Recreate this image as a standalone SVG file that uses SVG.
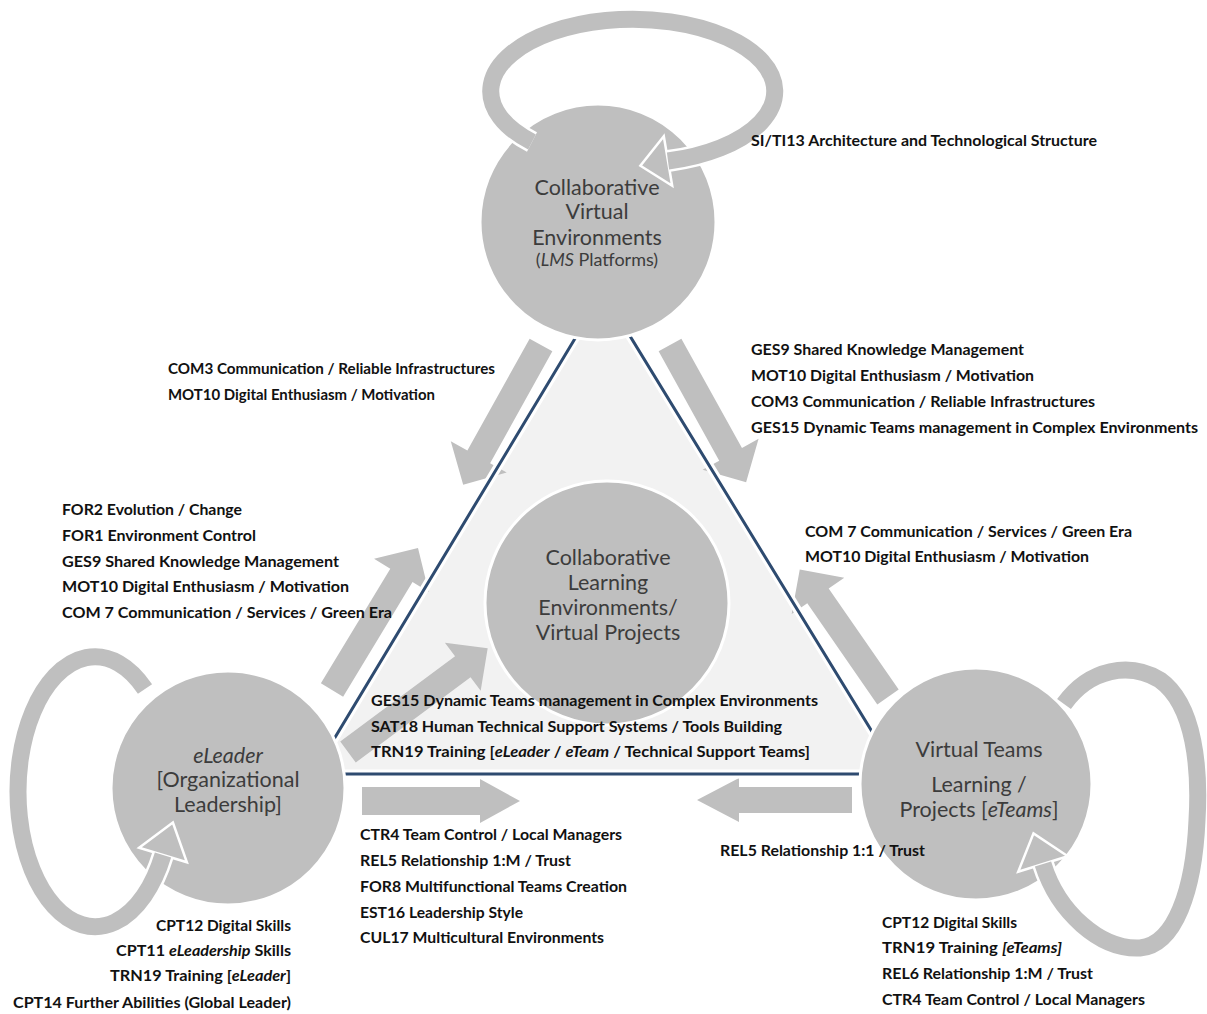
<svg xmlns="http://www.w3.org/2000/svg" width="1207" height="1014" viewBox="0 0 1207 1014">
<style>
.arrow{fill:#bfbfbf}
.node circle{fill:#bfbfbf;stroke:#fff;stroke-width:3}
.nl{font-family:Lato,"Liberation Sans",sans-serif;font-size:21.5px;fill:#3c3c3c;text-anchor:middle}
.lb{font-family:Lato,"Liberation Sans",sans-serif;font-size:14.5px;font-weight:bold;fill:#111}
.r{text-anchor:end}
.i{font-style:italic}
.halo{fill:none;stroke:#fff;stroke-width:22}
.band{fill:none;stroke:#bfbfbf;stroke-width:17}
.head{fill:#bfbfbf;stroke:#fff;stroke-width:2.5;stroke-linejoin:miter}
.edge-halo{fill:none;stroke:#fff;stroke-width:9}
.edge{fill:none;stroke:#2e4b70;stroke-width:3}
</style>
<rect width="1207" height="1014" fill="#fff"/>
<polygon points="603,292 313,774 898,774" fill="#f2f2f2"/>
<g id="connectors">
  <path class="arrow" transform="translate(541,345) rotate(119.1)" d="M0,-13 H128 V-32 L160,0 L128,32 V13 H0 Z"/>
  <path class="arrow" transform="translate(670,345) rotate(61)" d="M0,-13 H125 V-32 L157,0 L125,32 V13 H0 Z"/>
  <path class="arrow" transform="translate(332,690) rotate(-58.8)" d="M0,-13 H134 V-32 L166,0 L134,32 V13 H0 Z"/>
  <path class="arrow" transform="translate(348,752) rotate(-36.6)" d="M0,-13 H143 V-30 L174,0 L143,30 V13 H0 Z"/>
  <path class="arrow" transform="translate(888,697) rotate(-124.7)" d="M0,-13 H123 V-32 L155,0 L123,32 V13 H0 Z"/>
  <path class="arrow" transform="translate(362,801)" d="M0,-14 H118 V-22 L158,0 L118,22 V14 H0 Z"/>
  <path class="arrow" transform="translate(852,800) rotate(180)" d="M0,-13 H113 V-22 L155,0 L113,22 V13 H0 Z"/>
  <polygon class="edge-halo" points="603,292 313,774 898,774"/>
  <polygon class="edge" points="603,292 313,774 898,774"/>
</g>
<g id="node-cve" class="node">
  <circle cx="598" cy="222" r="118"/>
  <text class="nl" x="597" y="195">Collaborative</text>
  <text class="nl" x="597" y="219">Virtual</text>
  <text class="nl" x="597" y="245">Environments</text>
  <text class="nl" x="597" y="266" style="font-size:18px">(<tspan class="i">LMS</tspan> Platforms)</text>
</g>
<g id="node-cle" class="node">
  <circle cx="607" cy="603" r="122"/>
  <text class="nl" x="608" y="565">Collaborative</text>
  <text class="nl" x="608" y="590">Learning</text>
  <text class="nl" x="608" y="615">Environments/</text>
  <text class="nl" x="608" y="640">Virtual Projects</text>
</g>
<g id="node-eleader" class="node">
  <circle cx="228" cy="788" r="117"/>
  <text class="nl i" x="228" y="763">eLeader</text>
  <text class="nl" x="228" y="787">[Organizational</text>
  <text class="nl" x="228" y="812">Leadership]</text>
</g>
<g id="node-vt" class="node">
  <circle cx="976" cy="784" r="116"/>
  <text class="nl" x="979" y="757">Virtual Teams</text>
  <text class="nl" x="979" y="792">Learning /</text>
  <text class="nl" x="979" y="817">Projects [<tspan class="i">eTeams</tspan>]</text>
</g>
<g id="loops">
  <path class="halo" d="M532,142 A142,72 0 1 1 668,161"/>
  <polygon class="head" points="663.8,136.3 640.4,165.7 672.2,185.7"/>
  <path class="band" d="M532,142 A142,72 0 1 1 668,161"/>
  <path class="halo" d="M145,689 A77,135 0 1 0 163,855"/>
  <polygon class="head" points="139.1,847.7 172.9,822.5 186.9,862.3"/>
  <path class="band" d="M145,689 A77,135 0 1 0 163,855"/>
  <path class="halo" d="M1064,704 C1090,668 1130,662 1160,680 C1195,705 1200,770 1197,820 C1194,890 1175,945 1140,948 C1100,950 1058,912 1043,864"/>
  <polygon class="head" points="1067.8,856.3 1033.5,833.4 1018.2,871.7"/>
  <path class="band" d="M1064,704 C1090,668 1130,662 1160,680 C1195,705 1200,770 1197,820 C1194,890 1175,945 1140,948 C1100,950 1058,912 1043,864"/>
</g>
<g id="labels">
  <text class="lb" x="751" y="146" textLength="346" lengthAdjust="spacingAndGlyphs">SI/TI13 Architecture  and Technological Structure</text>
  <text class="lb" x="168" y="374" textLength="327" lengthAdjust="spacingAndGlyphs">COM3  Communication  / Reliable Infrastructures</text>
  <text class="lb" x="168" y="400" textLength="267" lengthAdjust="spacingAndGlyphs">MOT10 Digital Enthusiasm  / Motivation</text>
  <text class="lb" x="751" y="355" textLength="273" lengthAdjust="spacingAndGlyphs">GES9 Shared Knowledge Management</text>
  <text class="lb" x="751" y="381" textLength="283" lengthAdjust="spacingAndGlyphs">MOT10 Digital Enthusiasm / Motivation</text>
  <text class="lb" x="751" y="407" textLength="344" lengthAdjust="spacingAndGlyphs">COM3  Communication  / Reliable Infrastructures</text>
  <text class="lb" x="751" y="433" textLength="447" lengthAdjust="spacingAndGlyphs">GES15 Dynamic Teams management in Complex Environments</text>
  <text class="lb" x="62" y="515" textLength="180" lengthAdjust="spacingAndGlyphs">FOR2 Evolution / Change</text>
  <text class="lb" x="62" y="541" textLength="194" lengthAdjust="spacingAndGlyphs">FOR1 Environment  Control</text>
  <text class="lb" x="62" y="567" textLength="277" lengthAdjust="spacingAndGlyphs">GES9 Shared Knowledge Management</text>
  <text class="lb" x="62" y="592" textLength="287" lengthAdjust="spacingAndGlyphs">MOT10 Digital Enthusiasm  / Motivation</text>
  <text class="lb" x="62" y="618" textLength="330" lengthAdjust="spacingAndGlyphs">COM 7 Communication  / Services / Green Era</text>
  <text class="lb" x="805" y="537" textLength="327" lengthAdjust="spacingAndGlyphs">COM 7 Communication  / Services / Green Era</text>
  <text class="lb" x="805" y="562" textLength="284" lengthAdjust="spacingAndGlyphs">MOT10 Digital Enthusiasm / Motivation</text>
  <text class="lb" x="371" y="706" textLength="447" lengthAdjust="spacingAndGlyphs">GES15 Dynamic Teams management in Complex Environments</text>
  <text class="lb" x="371" y="732" textLength="411" lengthAdjust="spacingAndGlyphs">SAT18 Human Technical Support Systems / Tools Building</text>
  <text class="lb" x="371" y="757" textLength="439" lengthAdjust="spacingAndGlyphs">TRN19 Training  [<tspan class="i">eLeader</tspan> / <tspan class="i">eTeam</tspan> / Technical Support Teams]</text>
  <text class="lb" x="360" y="840" textLength="262" lengthAdjust="spacingAndGlyphs">CTR4 Team Control  / Local Managers</text>
  <text class="lb" x="360" y="866" textLength="211" lengthAdjust="spacingAndGlyphs">REL5 Relationship  1:M / Trust</text>
  <text class="lb" x="360" y="892" textLength="267" lengthAdjust="spacingAndGlyphs">FOR8 Multifunctional  Teams Creation</text>
  <text class="lb" x="360" y="918" textLength="163" lengthAdjust="spacingAndGlyphs">EST16 Leadership Style</text>
  <text class="lb" x="360" y="943" textLength="244" lengthAdjust="spacingAndGlyphs">CUL17 Multicultural  Environments</text>
  <text class="lb" x="720" y="856" textLength="205" lengthAdjust="spacingAndGlyphs">REL5 Relationship 1:1 / Trust</text>
  <text class="lb r" x="291" y="931" textLength="135" lengthAdjust="spacingAndGlyphs">CPT12 Digital Skills</text>
  <text class="lb r" x="291" y="956" textLength="175" lengthAdjust="spacingAndGlyphs">CPT11 <tspan class="i">eLeadership</tspan> Skills</text>
  <text class="lb r" x="291" y="981" textLength="181" lengthAdjust="spacingAndGlyphs">TRN19 Training  [<tspan class="i">eLeader</tspan>]</text>
  <text class="lb r" x="291" y="1008" textLength="278" lengthAdjust="spacingAndGlyphs">CPT14 Further Abilities (Global Leader)</text>
  <text class="lb" x="882" y="928" textLength="135" lengthAdjust="spacingAndGlyphs">CPT12 Digital Skills</text>
  <text class="lb" x="882" y="953" textLength="180" lengthAdjust="spacingAndGlyphs">TRN19 Training <tspan class="i">[eTeams]</tspan></text>
  <text class="lb" x="882" y="979" textLength="211" lengthAdjust="spacingAndGlyphs">REL6 Relationship  1:M / Trust</text>
  <text class="lb" x="882" y="1005" textLength="263" lengthAdjust="spacingAndGlyphs">CTR4 Team Control  / Local Managers</text>
</g>
</svg>
